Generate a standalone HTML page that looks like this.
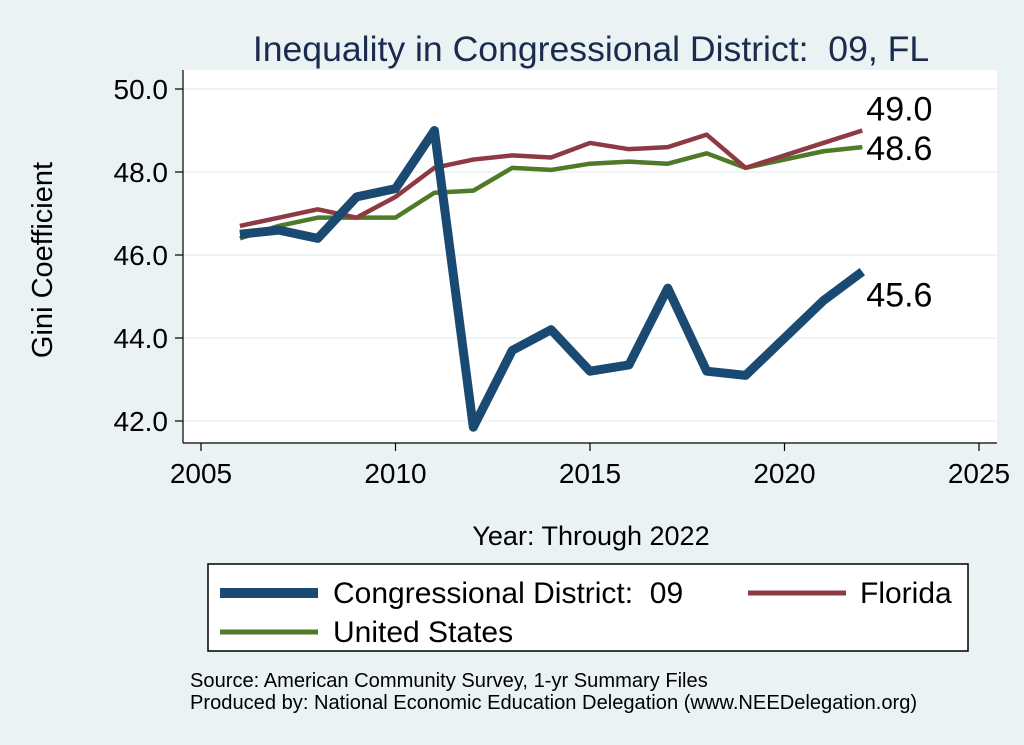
<!DOCTYPE html>
<html><head><meta charset="utf-8"><style>
body{margin:0;background:#eaf2f3;}
svg{display:block;font-family:"Liberation Sans",sans-serif;}
text{white-space:pre;}
</style></head><body>
<svg width="1024" height="745" id="chart" xml:space="preserve">
<rect x="0" y="0" width="1024" height="745" fill="#eaf2f3"/>
<text x="591" y="61" font-size="35.6" fill="#1a2b4e" text-anchor="middle">Inequality in Congressional District:  09, FL</text>
<rect x="183" y="70" width="814" height="373" fill="#fff"/>
<g id="axes"></g>
<g id="series"></g>
<text x="52" y="260" font-size="29" text-anchor="middle" transform="rotate(-90 52 260)">Gini Coefficient</text>
<text x="591" y="545" font-size="27" text-anchor="middle">Year: Through 2022</text>
<g>
<rect x="208" y="564" width="760" height="87" fill="#fff" stroke="#000" stroke-width="1.5"/>
<g><line x1="220" y1="593" x2="318" y2="593" stroke="#1a4a72" stroke-width="10"/><text x="333" y="603" font-size="30">Congressional District:  09</text></g>
<g><line x1="748" y1="593" x2="846" y2="593" stroke="#8e3a43" stroke-width="5"/><text x="860" y="603" font-size="30">Florida</text></g>
<g><line x1="220" y1="632" x2="318" y2="632" stroke="#4f7a28" stroke-width="5"/><text x="333" y="642" font-size="30">United States</text></g>
</g>
<text x="190" y="687" font-size="20.1">Source: American Community Survey, 1-yr Summary Files</text>
<text x="190" y="709" font-size="20.1">Produced by: National Economic Education Delegation (www.NEEDelegation.org)</text>
</svg>
<script>
const years=[2006,2007,2008,2009,2010,2011,2012,2013,2014,2015,2016,2017,2018,2019,2020,2021,2022];
const district=[46.5,46.6,46.4,47.4,47.6,49.0,41.85,43.7,44.2,43.2,43.35,45.2,43.2,43.1,44.0,44.9,45.6];
const florida=[46.7,46.9,47.1,46.9,47.4,48.1,48.3,48.4,48.35,48.7,48.55,48.6,48.9,48.1,48.4,48.7,49.0];
const usa=[46.4,46.7,46.9,46.9,46.9,47.5,47.55,48.1,48.05,48.2,48.25,48.2,48.45,48.1,48.3,48.5,48.6];
const xTicks=[2005,2010,2015,2020,2025];
const yTicks=[42,44,46,48,50];
const NS="http://www.w3.org/2000/svg";
function X(v){return 201+(v-2005)*38.9;}
function Y(v){return 421-(v-42)*41.5;}
function mk(t,a,p){const e=document.createElementNS(NS,t);for(const k in a)e.setAttribute(k,a[k]);p.appendChild(e);return e;}
const ax=document.getElementById('axes');
yTicks.forEach(t=>{
 const g=mk('line',{x1:183,y1:Y(t),x2:997,y2:Y(t),stroke:'#eaf2f3','stroke-width':1.5},ax);
 
 
});
const xa=mk('line',{x1:183,y1:443,x2:997,y2:443,stroke:'#000','stroke-width':1.2},ax);


const ya=mk('line',{x1:183,y1:70,x2:183,y2:443,stroke:'#000','stroke-width':1.2},ax);


xTicks.forEach(t=>{
 mk('line',{x1:X(t),y1:443,x2:X(t),y2:451,stroke:'#000','stroke-width':1.2},ax);
 const tx=mk('text',{x:X(t),y:483,'font-size':28,'text-anchor':'middle'},ax);tx.textContent=t;
 
 
});
yTicks.forEach(t=>{
 mk('line',{x1:175,y1:Y(t),x2:183,y2:Y(t),stroke:'#000','stroke-width':1.2},ax);
 const tx=mk('text',{x:168,y:Y(t)+10,'font-size':28,'text-anchor':'end'},ax);tx.textContent=t.toFixed(1);
 
 
});
const sg=document.getElementById('series');
function line(vals,color,w,name){
 const p=mk('polyline',{points:vals.map((v,i)=>X(years[i])+','+Y(v)).join(' '),fill:'none',stroke:color,'stroke-width':w,'stroke-linejoin':'round'},sg);
 
 
}
line(usa,'#4f7a28',4.5,'us-line');
line(florida,'#8e3a43',4.5,'florida-line');
line(district,'#1a4a72',9,'district-line');
function lab(v,dy,name){
 const t=mk('text',{x:X(2022)+4,y:Y(v)+dy,'font-size':34},sg);t.textContent=v.toFixed(1);
 
 
}
lab(florida[16],-10,'florida-end-label');
lab(usa[16],13,'us-end-label');
lab(district[16],35,'district-end-label');
</script>
</body></html>
